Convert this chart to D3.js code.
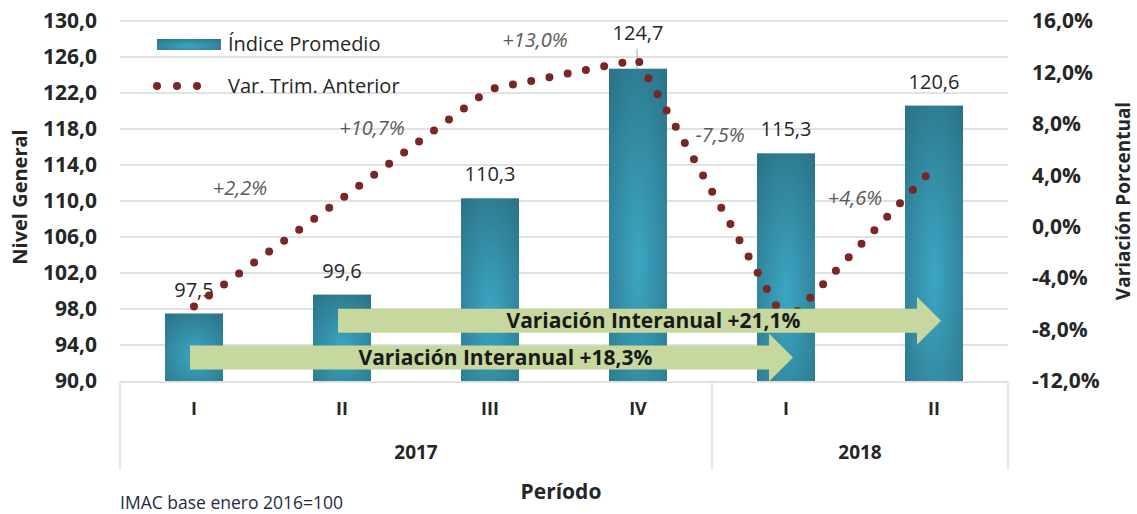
<!DOCTYPE html>
<html>
<head>
<meta charset="utf-8">
<script src="https://cdn.jsdelivr.net/npm/d3@7"></script>
<style>
  body { margin: 0; background: #fff; }
  svg text { font-family: "Open Sans", "Noto Sans", sans-serif; fill: #262626; }
</style>
</head>
<body>
<svg id="chart" width="1137" height="514"></svg>
<script>
// chart data
const quarters = ["I", "II", "III", "IV", "I", "II"];
const yearLabels = ["2017", "2018"];
const yearSpans = [4, 2];
const indexValues = [97.5, 99.6, 110.3, 124.7, 115.3, 120.6];
const quarterChange = [-6.2, 2.2, 10.7, 13.0, -7.5, 4.6];
const leftTicks = [90, 94, 98, 102, 106, 110, 114, 118, 122, 126, 130];
const rightTicks = [-12, -8, -4, 0, 4, 8, 12, 16];
// year-on-year arrows
const arrowFrom = [0, 1];
const arrowTo = [4, 5];
const arrowLevel = [92.6, 96.7];
const arrowText = ["Variación Interanual +18,3%", "Variación Interanual +21,1%"];

// layout
const PLOT = Object.freeze({ left: 120, right: 1008, top: 21, bottom: 381 });
// manual nudges of the % labels (dx, dy from their point), like the original
const PCT_NUDGE = [null, [-102, -10], [-118, 39], [-103, -20], [-66, -188], [-79, 30]];

const loc = d3.formatLocale({ decimal: ",", thousands: ".", grouping: [3], currency: ["", ""], minus: "-" });
const f1 = loc.format(".1f");
const pct = (v) => (v > 0 ? "+" : "") + f1(v) + "%";

const svg = d3.select("#chart");

const x = d3.scaleBand()
  .domain(d3.range(quarters.length))
  .range([PLOT.left, PLOT.right])
  .paddingInner(0.608)
  .paddingOuter(0.304);
const cx = (i) => x(i) + x.bandwidth() / 2;

const yL = d3.scaleLinear().domain([90, 130]).range([PLOT.bottom, PLOT.top]);
const yR = d3.scaleLinear().domain([-12, 16]).range([PLOT.bottom, PLOT.top]);

// gradient for bars
const defs = svg.append("defs");
const grad = defs.append("radialGradient")
  .attr("id", "barGrad")
  .attr("cx", "50%").attr("cy", "62%").attr("r", "75%");
grad.append("stop").attr("offset", "0%").attr("stop-color", "#3ca6c2");
grad.append("stop").attr("offset", "100%").attr("stop-color", "#2b7488");

// gridlines
svg.append("g")
  .selectAll("line")
  .data(leftTicks.slice(1))
  .enter()
  .append("line")
  .attr("x1", PLOT.left).attr("x2", PLOT.right)
  .attr("y1", (d) => yL(d)).attr("y2", (d) => yL(d))
  .attr("stroke", "#d9d9d9").attr("stroke-width", 1.3);

// bars
svg.append("g")
  .selectAll("rect")
  .data(indexValues)
  .enter()
  .append("rect")
  .attr("x", (d, i) => x(i))
  .attr("width", x.bandwidth())
  .attr("y", (d) => yL(d))
  .attr("height", (d) => yL(90) - yL(d))
  .attr("fill", "url(#barGrad)");

// bar value labels (IV was pulled up with a leader line)
const lift = (i) => (i === 3 ? 29 : 17);
svg.append("g")
  .selectAll("text")
  .data(indexValues)
  .enter()
  .append("text")
  .attr("x", (d, i) => cx(i))
  .attr("y", (d, i) => yL(d) - lift(i))
  .attr("text-anchor", "middle")
  .style("font-size", "20px")
  .text((d) => f1(d));
svg.append("line")
  .attr("x1", cx(3) - 1).attr("x2", cx(3) - 1)
  .attr("y1", yL(indexValues[3]) - 20).attr("y2", yL(indexValues[3]))
  .attr("stroke", "#a6a6a6").attr("stroke-width", 1);

// dotted line of quarterly change
const line = d3.line()
  .x((d, i) => cx(i))
  .y((d) => yR(d));
svg.append("path")
  .datum(quarterChange)
  .attr("d", line)
  .attr("fill", "none")
  .attr("stroke", "#7a2626")
  .attr("stroke-width", 8)
  .attr("stroke-linecap", "round")
  .attr("stroke-linejoin", "round")
  .attr("stroke-dasharray", "0 18.6");

// % labels
svg.append("g")
  .selectAll("text")
  .data(quarterChange.map((v, i) => ({ v, i })).filter((d) => PCT_NUDGE[d.i]))
  .enter()
  .append("text")
  .attr("x", (d) => cx(d.i) + PCT_NUDGE[d.i][0])
  .attr("y", (d) => yR(d.v) + PCT_NUDGE[d.i][1])
  .attr("dy", "0.35em")
  .attr("text-anchor", "middle")
  .style("font-size", "20px")
  .style("font-style", "italic")
  .style("fill", "#595959")
  .text((d) => pct(d.v));

// year-on-year arrows
const SHAFT = 12, HEAD = 24, HEAD_LEN = 24;
arrowFrom.forEach((from, k) => {
  const x0 = cx(from) - 4;
  const x1 = cx(arrowTo[k]) + 7;
  const yc = yL(arrowLevel[k]);
  const path = d3.path();
  path.moveTo(x0, yc - SHAFT);
  path.lineTo(x1 - HEAD_LEN, yc - SHAFT);
  path.lineTo(x1 - HEAD_LEN, yc - HEAD);
  path.lineTo(x1, yc);
  path.lineTo(x1 - HEAD_LEN, yc + HEAD);
  path.lineTo(x1 - HEAD_LEN, yc + SHAFT);
  path.lineTo(x0, yc + SHAFT);
  path.closePath();
  svg.append("path").attr("d", path.toString()).attr("fill", "#c6d89d");
  svg.append("text")
    .attr("x", (x0 + x1) / 2 + 14)
    .attr("y", yc)
    .attr("dy", "0.35em")
    .attr("text-anchor", "middle")
    .style("font-size", "21px")
    .style("font-weight", "bold")
    .style("fill", "#1a1a1a")
    .text(arrowText[k]);
});

// left axis
svg.append("g")
  .selectAll("text")
  .data(leftTicks)
  .enter()
  .append("text")
  .attr("x", 97)
  .attr("y", (d) => yL(d))
  .attr("dy", "0.35em")
  .attr("text-anchor", "end")
  .style("font-size", "21px")
  .style("font-weight", "bold")
  .text((d) => f1(d));

// right axis
svg.append("g")
  .selectAll("text")
  .data(rightTicks)
  .enter()
  .append("text")
  .attr("x", 1032)
  .attr("y", (d) => yR(d))
  .attr("dy", "0.35em")
  .attr("text-anchor", "start")
  .style("font-size", "21px")
  .style("font-weight", "bold")
  .text((d) => f1(d) + "%");

// category axis (two levels)
const axisG = svg.append("g").attr("stroke", "#d9d9d9").attr("stroke-width", 1.3);
axisG.append("line")
  .attr("x1", PLOT.left).attr("x2", PLOT.right)
  .attr("y1", PLOT.bottom + 1).attr("y2", PLOT.bottom + 1);
let acc = 0;
const yearBounds = [0];
yearSpans.forEach((s) => { acc += s; yearBounds.push(acc); });
yearBounds.forEach((b) => {
  const bx = b === quarters.length ? PLOT.right : x(b) - x.step() * x.paddingInner() / 2;
  axisG.append("line")
    .attr("x1", bx).attr("x2", bx)
    .attr("y1", PLOT.bottom + 1).attr("y2", 470);
});

svg.append("g")
  .selectAll("text")
  .data(quarters)
  .enter()
  .append("text")
  .attr("x", (d, i) => cx(i))
  .attr("y", 409)
  .attr("dy", "0.35em")
  .attr("text-anchor", "middle")
  .style("font-size", "18px")
  .style("font-weight", "bold")
  .text((d) => d);

svg.append("g")
  .selectAll("text")
  .data(yearLabels)
  .enter()
  .append("text")
  .attr("x", (d, i) => {
    const a = yearBounds[i], b = yearBounds[i + 1] - 1;
    return (cx(a) + cx(b)) / 2;
  })
  .attr("y", 452)
  .attr("dy", "0.35em")
  .attr("text-anchor", "middle")
  .style("font-size", "19px")
  .style("font-weight", "bold")
  .text((d) => d);

// axis titles
svg.append("text")
  .attr("transform", "translate(20,197) rotate(-90)")
  .attr("dy", "0.35em")
  .attr("text-anchor", "middle")
  .style("font-size", "20px")
  .style("font-weight", "bold")
  .text("Nivel General");
svg.append("text")
  .attr("transform", "translate(1123,201) rotate(-90)")
  .attr("dy", "0.35em")
  .attr("text-anchor", "middle")
  .style("font-size", "19px")
  .style("font-weight", "bold")
  .text("Variación Porcentual");
svg.append("text")
  .attr("x", (PLOT.left + PLOT.right) / 2 - 3)
  .attr("y", 492)
  .attr("dy", "0.35em")
  .attr("text-anchor", "middle")
  .style("font-size", "21px")
  .style("font-weight", "bold")
  .text("Período");
svg.append("text")
  .attr("x", 120)
  .attr("y", 503)
  .attr("dy", "0.35em")
  .style("font-size", "17.5px")
  .style("fill", "#1f2a44")
  .text("IMAC base enero 2016=100");

// legend
const legend = svg.append("g");
legend.append("rect")
  .attr("x", 157).attr("y", 39).attr("width", 64).attr("height", 11)
  .attr("fill", "url(#barGrad)");
legend.append("text")
  .attr("x", 228).attr("y", 44).attr("dy", "0.35em")
  .style("font-size", "20px")
  .text("Índice Promedio");
legend.append("line")
  .attr("x1", 157).attr("x2", 217).attr("y1", 86).attr("y2", 86)
  .attr("stroke", "#7a2626").attr("stroke-width", 8)
  .attr("stroke-linecap", "round").attr("stroke-dasharray", "0 20");
legend.append("text")
  .attr("x", 228).attr("y", 86).attr("dy", "0.35em")
  .style("font-size", "20px")
  .text("Var. Trim. Anterior");
</script>
</body>
</html>
